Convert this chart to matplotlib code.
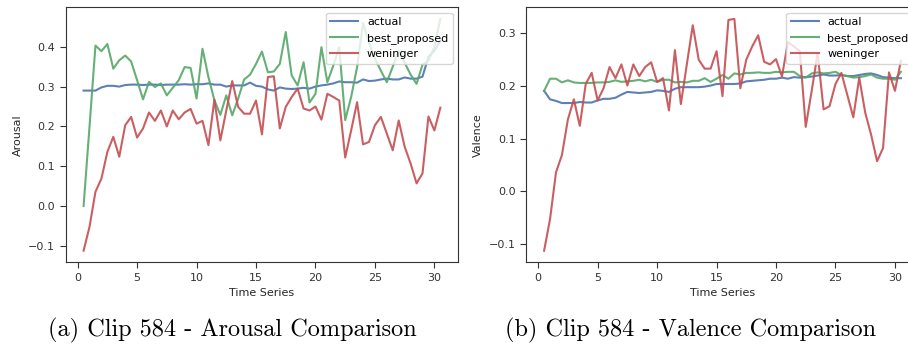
import numpy as np
import matplotlib
matplotlib.use("Agg")
import matplotlib.pyplot as plt

# time axis: 0.5 .. 30.5 in half-second steps
t = np.arange(1, 62) * 0.5

arousal_actual = [0.290, 0.290, 0.290, 0.298, 0.302, 0.302, 0.300, 0.304, 0.305, 0.305,
                  0.304, 0.305, 0.305, 0.304, 0.305, 0.305, 0.305, 0.306, 0.305, 0.306,
                  0.306, 0.308, 0.305, 0.305, 0.300, 0.303, 0.303, 0.303, 0.310, 0.302,
                  0.300, 0.293, 0.290, 0.298, 0.295, 0.294, 0.295, 0.297, 0.295, 0.300,
                  0.303, 0.305, 0.308, 0.313, 0.311, 0.311, 0.310, 0.318, 0.314, 0.315,
                  0.318, 0.320, 0.318, 0.318, 0.323, 0.320, 0.320, 0.325, 0.375, 0.390,
                  0.415]
arousal_best = [0.000, 0.200, 0.403, 0.389, 0.407, 0.345, 0.366, 0.378, 0.363, 0.316,
                0.268, 0.312, 0.299, 0.308, 0.278, 0.297, 0.316, 0.349, 0.347, 0.270,
                0.395, 0.324, 0.266, 0.229, 0.278, 0.228, 0.270, 0.318, 0.330, 0.357,
                0.388, 0.336, 0.338, 0.357, 0.437, 0.328, 0.303, 0.361, 0.260, 0.282,
                0.399, 0.311, 0.353, 0.399, 0.216, 0.274, 0.349, 0.460, 0.410, 0.370,
                0.340, 0.311, 0.350, 0.390, 0.360, 0.330, 0.307, 0.355, 0.365, 0.400,
                0.470]
weninger = [-0.112, -0.052, 0.036, 0.069, 0.136, 0.174, 0.124, 0.203, 0.224, 0.172,
            0.195, 0.235, 0.214, 0.240, 0.200, 0.240, 0.218, 0.235, 0.244, 0.207,
            0.214, 0.153, 0.267, 0.165, 0.240, 0.314, 0.249, 0.232, 0.232, 0.265,
            0.180, 0.324, 0.326, 0.195, 0.249, 0.274, 0.295, 0.245, 0.240, 0.250,
            0.217, 0.282, 0.274, 0.265, 0.122, 0.190, 0.261, 0.155, 0.161, 0.203,
            0.224, 0.182, 0.140, 0.215, 0.149, 0.107, 0.057, 0.082, 0.225, 0.190,
            0.247]

valence_actual = [0.190, 0.174, 0.171, 0.167, 0.167, 0.167, 0.169, 0.168, 0.168, 0.172,
                  0.175, 0.175, 0.177, 0.183, 0.188, 0.187, 0.186, 0.187, 0.188, 0.191,
                  0.190, 0.188, 0.194, 0.197, 0.197, 0.197, 0.197, 0.198, 0.200, 0.203,
                  0.203, 0.203, 0.203, 0.204, 0.208, 0.209, 0.210, 0.211, 0.213, 0.213,
                  0.215, 0.213, 0.216, 0.215, 0.216, 0.217, 0.219, 0.221, 0.219, 0.219,
                  0.220, 0.218, 0.218, 0.220, 0.222, 0.223, 0.220, 0.216, 0.215, 0.214,
                  0.214]
valence_best = [0.190, 0.213, 0.213, 0.206, 0.210, 0.206, 0.205, 0.205, 0.205, 0.206,
                0.206, 0.207, 0.210, 0.207, 0.208, 0.209, 0.211, 0.208, 0.211, 0.207,
                0.211, 0.211, 0.206, 0.207, 0.206, 0.209, 0.209, 0.214, 0.207, 0.213,
                0.220, 0.213, 0.223, 0.221, 0.224, 0.224, 0.225, 0.224, 0.224, 0.226,
                0.225, 0.226, 0.226, 0.218, 0.215, 0.223, 0.225, 0.223, 0.224, 0.226,
                0.220, 0.218, 0.215, 0.216, 0.218, 0.221, 0.215, 0.213, 0.213, 0.211,
                0.226]

labels = ["actual", "best_proposed", "weninger"]
colors = ["#4C72B0", "#55A868", "#C44E52"]
captions = ["(a) Clip 584 - Arousal Comparison", "(b) Clip 584 - Valence Comparison"]

plt.rcParams["font.size"] = 8
plt.rcParams["axes.edgecolor"] = "#333333"
plt.rcParams["xtick.color"] = "#333333"
plt.rcParams["ytick.color"] = "#333333"
plt.rcParams["axes.labelcolor"] = "#262626"

fig = plt.figure(figsize=(9.08, 3.5), dpi=100)
ax1 = fig.add_axes([0.0724, 0.2506, 0.4322, 0.7285])
ax2 = fig.add_axes([0.5796, 0.2506, 0.4322, 0.7285])

panels = [
    (ax1, [arousal_actual, arousal_best, weninger], "Arousal"),
    (ax2, [valence_actual, valence_best, weninger], "Valence"),
]
for ax, series, ylab in panels:
    for vals, lab, c in zip(series, labels, colors):
        ax.plot(t, vals, color=c, lw=1.5, label=lab, alpha=0.9)
    ax.set_xlabel("Time Series", labelpad=4)
    ax.set_ylabel(ylab)
    ax.set_xticks([0, 5, 10, 15, 20, 25, 30])
    ax.tick_params(length=4, width=0.8, labelcolor="#333333")
    ax.legend(loc="upper right", fontsize=8, handlelength=2.5)

ax1.set_yticks([-0.1, 0.0, 0.1, 0.2, 0.3, 0.4])
ax2.set_yticks([-0.1, 0.0, 0.1, 0.2, 0.3])

fig.text(0.2555, 0.04, captions[0], family="cmr10", fontsize=17.5, ha="center", va="baseline")
fig.text(0.760, 0.04, captions[1], family="cmr10", fontsize=17.5, ha="center", va="baseline")

fig.savefig("out.png", dpi=100)
